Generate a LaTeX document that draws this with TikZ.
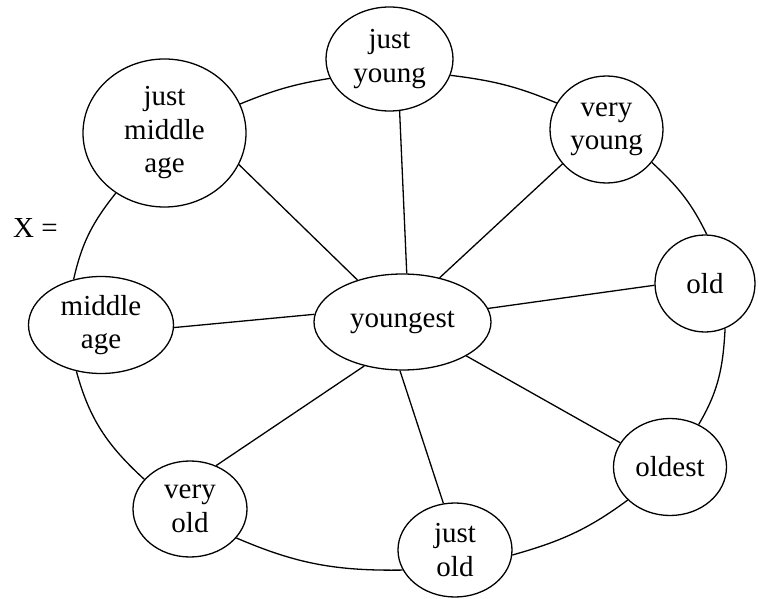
\documentclass[tikz,border=0pt]{standalone}
\usepackage{fontspec}
\setmainfont{Liberation Serif}
\usetikzlibrary{shapes.geometric}
\begin{document}
\begin{tikzpicture}[x=1pt,y=1pt,
  bubble/.style={draw,ellipse,inner sep=0pt,align=center,line width=1.3pt,
    font=\fontsize{29}{33.5}\selectfont},
  link/.style={line width=1.3pt}]
\useasboundingbox (0,0) rectangle (758,598);

% label
\node[anchor=base west,inner sep=0pt,font=\fontsize{29}{33.5}\selectfont] (xlabel) at (13,360) {X =};

% hub and the eight surrounding terms
\node[bubble,minimum width=177pt,minimum height=96pt] (yg) at (402.5,276) {youngest};
\node[bubble,minimum width=127pt,minimum height=104pt] (jy) at (389.5,539) {just\\young};
\node[bubble,minimum width=113pt,minimum height=107pt] (vy) at (606.5,468.5) {very\\young};
\node[bubble,minimum width=100pt,minimum height=97pt] (old) at (705,314.5) {old};
\node[bubble,minimum width=113pt,minimum height=97pt] (oldest) at (670,131) {oldest};
\node[bubble,minimum width=114pt,minimum height=94pt] (jo) at (455,48) {just\\old};
\node[bubble,minimum width=114pt,minimum height=96pt] (vo) at (190,89) {very\\old};
\node[bubble,minimum width=145pt,minimum height=97pt] (ma) at (101,273) {middle\\age};
\node[bubble,minimum width=163pt,minimum height=148pt] (jma) at (164.5,465) {just\\middle\\age};

% outer ring
\draw[link] (jma.21.7) to[out=22.3,in=189.2] (jy.198);
\draw[link] (jy.-15.7) to[out=-7,in=157.2] (vy.152.7);
\draw[link] (vy.-36.4) to[out=-42.6,in=115.9] (old.88.8);
\draw[link] (old.-66.6) to[out=-93,in=59.4] (oldest.56.9);
\draw[link] (oldest.-142.5) to[out=-143.5,in=15.7] (jo.-5.1);
\draw[link] (jo.-159) to[out=-179.2,in=-23.3] (vo.-32.8);
\draw[link] (vo.147.8) to[out=137.5,in=-74.8] (ma.-118);
\draw[link] (ma.121.9) to[out=77.3,in=-128.6] (jma.-129.5);

% spokes from the hub
\draw[link] (yg.85.8) -- (jy.-79.8);
\draw[link] (yg.50.9) -- (vy.-142.2);
\draw[link] (yg.9.5) -- (old.182.8);
\draw[link] (yg.-28.5) -- (oldest.154.9);
\draw[link] (yg.-93) -- (jo.104.6);
\draw[link] (yg.-131.8) -- (vo.59.4);
\draw[link] (yg.175.5) -- (ma.-2.4);
\draw[link] (yg.137.3) -- (jma.-23.5);
\end{tikzpicture}
\end{document}
